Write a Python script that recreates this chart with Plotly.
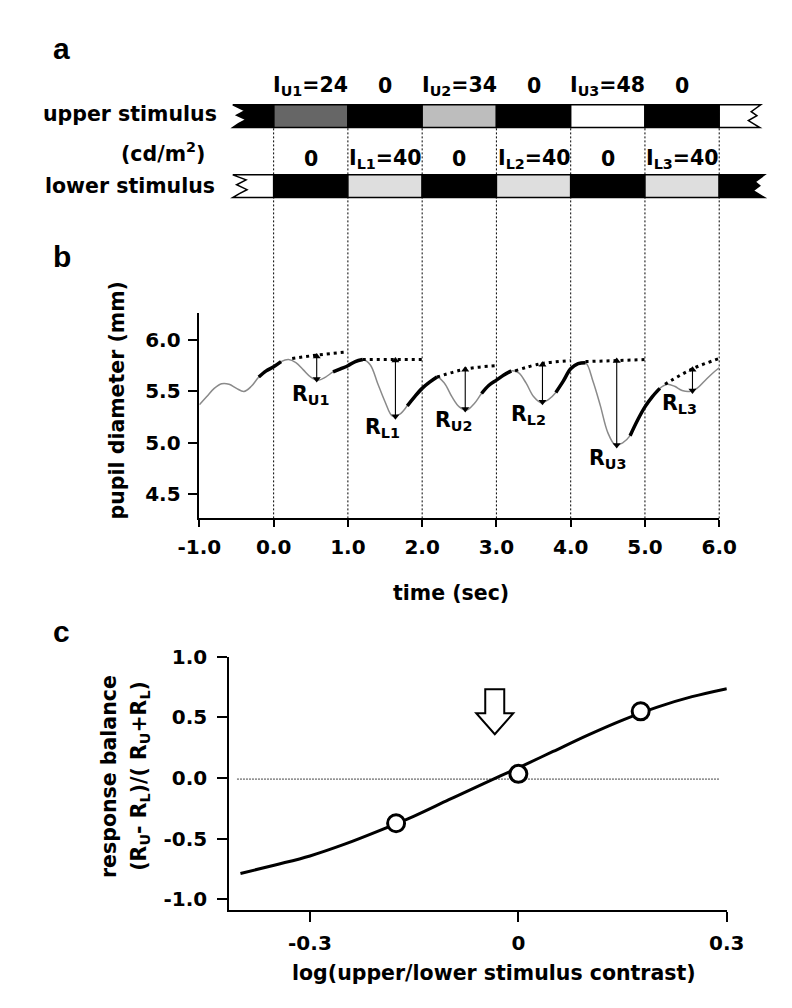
import plotly.graph_objects as go

W, H = 792, 1008
FONT = "DejaVu Sans, Verdana, sans-serif"
LFONT = "Liberation Sans, Arial, sans-serif"

# ---------------- data ----------------
# panel a : stimulus schedule, 1-s segments
seg_start = [0, 1, 2, 3, 4, 5]
upper_I = [24, 0, 34, 0, 48, 0]
lower_I = [0, 40, 0, 40, 0, 40]
shade = {0: "#000000", 24: "#666666", 34: "#bdbdbd", 40: "#dedede", 48: "#ffffff"}

# panel b : pupil trace (sampled every 0.1 s)
time_s = [round(-1 + 0.1 * i, 1) for i in range(71)]
diam_mm = [
    5.37, 5.45, 5.53, 5.575, 5.57, 5.53, 5.50, 5.55, 5.64, 5.70,
    5.74, 5.79, 5.81, 5.78, 5.71, 5.64, 5.61, 5.64, 5.69, 5.72,
    5.75, 5.79, 5.81, 5.76, 5.58, 5.40, 5.26, 5.28, 5.36, 5.45,
    5.53, 5.59, 5.64, 5.58, 5.45, 5.35, 5.32, 5.38, 5.48, 5.56,
    5.61, 5.66, 5.70, 5.68, 5.58, 5.45, 5.39, 5.42, 5.49, 5.60,
    5.72, 5.77, 5.78, 5.60, 5.36, 5.10, 4.98, 5.00, 5.07, 5.22,
    5.35, 5.45, 5.53, 5.57, 5.55, 5.51, 5.50, 5.53, 5.60, 5.67,
    5.73,
]
black_windows = [(-0.2, 0.1), (0.8, 1.2), (1.8, 2.2), (2.8, 3.2), (3.8, 4.2), (4.8, 5.2)]

base_t = [[0.25, 0.6, 1.0], [1.2, 2.0], [2.2, 2.6, 3.0], [3.25, 3.6, 4.0], [4.2, 5.0], [5.27, 5.64, 6.0]]
base_y = [[5.82, 5.855, 5.885], [5.81, 5.81], [5.64, 5.72, 5.75], [5.70, 5.77, 5.80], [5.79, 5.81], [5.57, 5.72, 5.82]]

resp_names = ["U1", "L1", "U2", "L2", "U3", "L3"]
resp_t = [0.58, 1.64, 2.58, 3.62, 4.62, 5.64]
resp_top = [5.84, 5.80, 5.71, 5.76, 5.795, 5.71]
resp_bottom = [5.62, 5.26, 5.33, 5.40, 4.98, 5.51]
label_t = [0.49, 1.47, 2.42, 3.43, 4.49, 5.46]
label_y = [5.47, 5.14, 5.21, 5.27, 4.84, 5.38]

b_xticks = [-1, 0, 1, 2, 3, 4, 5, 6]
b_xticktext = ["-1.0", "0.0", "1.0", "2.0", "3.0", "4.0", "5.0", "6.0"]
b_yticks = [4.5, 5.0, 5.5, 6.0]
b_yticktext = ["4.5", "5.0", "5.5", "6.0"]

# panel c : response balance
fit_x = [-0.40, -0.35, -0.30, -0.25, -0.20, -0.15, -0.10, -0.05, 0.00, 0.05, 0.10, 0.15, 0.20, 0.25, 0.30]
fit_y = [-0.787, -0.716, -0.642, -0.545, -0.433, -0.313, -0.178, -0.045, 0.085, 0.22, 0.355, 0.479, 0.586, 0.672, 0.738]
obs_x = [-0.176, 0.0, 0.176]
obs_y = [-0.372, 0.035, 0.551]
pse_x = -0.034
c_xticks = [-0.3, 0, 0.3]
c_xticktext = ["-0.3", "0", "0.3"]
c_yticks = [-1, -0.5, 0, 0.5, 1]
c_yticktext = ["-1.0", "-0.5", "0.0", "0.5", "1.0"]

# ---------------- geometry (pixels) ----------------
def fx(px):
    return px / W


def fy(py):
    return 1 - py / H


B_X0, B_X1 = 186.8, 734.3
B_YB, B_YT = 513, 305
C_X0, C_X1 = 218, 742.3
C_YB, C_YT = 910, 653.3
sec_px = (B_X1 - B_X0) / 7
t_left = -1 - B_X0 / sec_px
t_right = -1 + (W - B_X0) / sec_px


def t_of(px):
    return -1 + (px - B_X0) / sec_px


UP = (94, 117)
LO = (165, 188)

fig = go.Figure()

# ---- panel b traces ----
fig.add_trace(go.Scatter(x=time_s, y=diam_mm, mode="lines", line=dict(color="#8a8a8a", width=1.5, shape="spline"),
                         xaxis="x", yaxis="y", showlegend=False, hoverinfo="skip"))
for a, b in black_windows:
    xs = [t for t in time_s if a - 1e-9 <= t <= b + 1e-9]
    ys = [d for t, d in zip(time_s, diam_mm) if a - 1e-9 <= t <= b + 1e-9]
    fig.add_trace(go.Scatter(x=xs, y=ys, mode="lines", line=dict(color="black", width=3.5, shape="spline"),
                             xaxis="x", yaxis="y", showlegend=False, hoverinfo="skip"))
for bt, by in zip(base_t, base_y):
    fig.add_trace(go.Scatter(x=bt, y=by, mode="lines", line=dict(color="black", width=3, dash="3px,4px", shape="spline"),
                             xaxis="x", yaxis="y", showlegend=False, hoverinfo="skip"))

# response arrows (double headed)
arr_x, arr_y = [], []
for t, y0, y1 in zip(resp_t, resp_top, resp_bottom):
    arr_x += [t, t, None]
    arr_y += [y0, y1, None]
fig.add_trace(go.Scatter(x=arr_x, y=arr_y, mode="lines", line=dict(color="black", width=1.1),
                         xaxis="x", yaxis="y", showlegend=False, hoverinfo="skip"))
fig.add_trace(go.Scatter(x=resp_t, y=resp_top, mode="markers", marker=dict(symbol="triangle-up", size=7, color="black"),
                         xaxis="x", yaxis="y", showlegend=False, hoverinfo="skip"))
fig.add_trace(go.Scatter(x=resp_t, y=resp_bottom, mode="markers",
                         marker=dict(symbol="triangle-down", size=7, color="black"),
                         xaxis="x", yaxis="y", showlegend=False, hoverinfo="skip"))

# ---- panel a helper axis ----
fig.add_trace(go.Scatter(x=[], y=[], xaxis="x2", yaxis="y2", showlegend=False, hoverinfo="skip"))

# ---- panel c traces ----
fig.add_trace(go.Scatter(x=fit_x, y=fit_y, mode="lines", line=dict(color="black", width=3, shape="spline"),
                         xaxis="x3", yaxis="y3", showlegend=False, hoverinfo="skip"))
fig.add_trace(go.Scatter(x=obs_x, y=obs_y, mode="markers",
                         marker=dict(symbol="circle", size=17, color="white", line=dict(color="black", width=3)),
                         xaxis="x3", yaxis="y3", showlegend=False, hoverinfo="skip"))

shapes = []
# vertical dotted time markers through panels a and b
for t in range(0, 7):
    shapes.append(dict(type="line", xref="x2", yref="paper", x0=t, x1=t, y0=fy(B_YB), y1=fy(UP[1]),
                       line=dict(color="black", width=1, dash="2px,2px"), layer="below"))


def path_px(pts):
    s = ""
    for i, (px, py) in enumerate(pts):
        s += ("M" if i == 0 else "L") + f"{t_of(px):.4f},{fy(py):.5f} "
    return s + "Z"


# stimulus bars
for s0, iu, il in zip(seg_start, upper_I, lower_I):
    shapes.append(dict(type="rect", xref="x2", yref="paper", x0=s0, x1=s0 + 1, y0=fy(UP[1]), y1=fy(UP[0]),
                       fillcolor=shade[iu], line=dict(color="black", width=1.5)))
    shapes.append(dict(type="rect", xref="x2", yref="paper", x0=s0, x1=s0 + 1, y0=fy(LO[1]), y1=fy(LO[0]),
                       fillcolor=shade[il], line=dict(color="black", width=1.5)))

x_end0 = B_X0 + sec_px  # pixel at t=0
x_end6 = B_X1
# torn ends
shapes.append(dict(type="path", xref="x2", yref="paper", fillcolor="black", line=dict(color="black", width=1.5),
                   path=path_px([(x_end0, UP[0]), (222, UP[0]), (235, 100), (226, 104.5), (236, 109), (228, 113),
                                 (222, UP[1]), (x_end0, UP[1])])))
shapes.append(dict(type="path", xref="x2", yref="paper", fillcolor="white", line=dict(color="black", width=1.5),
                   path=path_px([(x_end0, LO[0]), (222, LO[0]), (236, 170), (226, 175), (237, 180), (229, 184),
                                 (222, LO[1]), (x_end0, LO[1])])))
shapes.append(dict(type="path", xref="x2", yref="paper", fillcolor="white", line=dict(color="black", width=1.5),
                   path=path_px([(x_end6, UP[0]), (778, UP[0]), (768, 101), (774, 105), (765, 110), (777, UP[1]),
                                 (x_end6, UP[1])])))
shapes.append(dict(type="path", xref="x2", yref="paper", fillcolor="black", line=dict(color="black", width=1.5),
                   path=path_px([(x_end6, LO[0]), (782, LO[0]), (772, 172), (777, 176), (770, 181), (782, LO[1]),
                                 (x_end6, LO[1])])))

# panel c: zero reference and PSE arrow
shapes.append(dict(type="line", xref="x3", yref="y3", x0=-0.405, x1=0.289, y0=-0.008, y1=-0.008,
                   line=dict(color="#444444", width=1, dash="2px,1px"), layer="below"))
shapes.append(dict(type="path", xref="x3", yref="y3", xsizemode="pixel", ysizemode="pixel",
                   xanchor=pse_x, yanchor=0.362,
                   path="M0,0 L18.5,21 L9.5,21 L9.5,45 L-9.5,45 L-9.5,21 L-18.5,21 Z",
                   fillcolor="white", line=dict(color="black", width=2)))

ann = []
FS = 20.5


def txt(text, x, y, xref="paper", yref="paper", xanchor="center", yanchor="middle", size=FS, angle=0, family=FONT):
    ann.append(dict(text=text, x=x, y=y, xref=xref, yref=yref, xanchor=xanchor, yanchor=yanchor,
                    showarrow=False, textangle=angle,
                    font=dict(family=family, size=size, color="black", weight="bold")))


# panel letters
txt("a", fx(31), fy(36.6), xanchor="left", size=30, family=LFONT)
txt("b", fx(31), fy(247.6), xanchor="left", size=30, family=LFONT)
txt("c", fx(31), fy(628), xanchor="left", size=30, family=LFONT)

# panel a labels
ku = kl = 0
for s0, iu, il in zip(seg_start, upper_I, lower_I):
    if iu:
        ku += 1
        tu = f"I<sub>U{ku}</sub>={iu}"
    else:
        tu = "0"
    if il:
        kl += 1
        tl = f"I<sub>L{kl}</sub>={il}"
    else:
        tl = "0"
    txt(tu, s0 + 0.5, fy(75), xref="x2")
    txt(tl, s0 + 0.5, fy(149), xref="x2")
txt("upper stimulus", fx(207), fy(103), xanchor="right")
txt("(cd/m<sup>2</sup>)", fx(195), fy(142), xanchor="right")
txt("lower stimulus", fx(205), fy(176), xanchor="right")

# panel b response labels
for nm, lt, ly in zip(resp_names, label_t, label_y):
    txt(f"R<sub>{nm}</sub>", lt, ly, xref="x", yref="y")

txt("pupil diameter (mm)", fx(99.5), fy(393), angle=-90)
txt("time (sec)", fx(452), fy(588.5))
txt("response balance", fx(91.6), fy(774), angle=-90)
txt("(R<sub>U</sub>- R<sub>L</sub>)/( R<sub>U</sub>+R<sub>L</sub>)", fx(124), fy(774), angle=-90)
txt("log(upper/lower stimulus contrast)", fx(497.5), fy(974))

axis_common = dict(showline=True, linecolor="black", linewidth=1.6, ticks="outside", tickwidth=1.6,
                   tickcolor="black", showgrid=False, zeroline=False,
                   tickfont=dict(family=FONT, size=20, color="black", weight="bold"))

fig.update_layout(
    width=W, height=H, margin=dict(l=0, r=0, t=0, b=0),
    paper_bgcolor="white", plot_bgcolor="rgba(0,0,0,0)",
    font=dict(family=FONT, size=20, color="black"),
    showlegend=False,
    xaxis=dict(domain=[fx(B_X0), fx(B_X1)], range=[-1, 6], anchor="y", tickvals=b_xticks, ticktext=b_xticktext,
               ticklen=7, ticklabelstandoff=3, **axis_common),
    yaxis=dict(domain=[fy(B_YB), fy(B_YT)], range=[4.266, 6.262], anchor="x", tickvals=b_yticks,
               ticktext=b_yticktext, ticklen=10, ticklabelstandoff=3, **axis_common),
    xaxis2=dict(domain=[0, 1], range=[t_left, t_right], anchor="y2", visible=False),
    yaxis2=dict(domain=[0, 1], range=[0, 1], anchor="x2", visible=False),
    xaxis3=dict(domain=[fx(C_X0), fx(C_X1)], range=[-0.4165, 0.3], anchor="y3", tickvals=c_xticks,
                ticktext=c_xticktext, ticklen=10, ticklabelstandoff=4, **axis_common),
    yaxis3=dict(domain=[fy(C_YB), fy(C_YT)], range=[-1.09, 1.0], anchor="x3", tickvals=c_yticks,
                ticktext=c_yticktext, ticklen=10, ticklabelstandoff=6, **axis_common),
    shapes=shapes,
    annotations=ann,
)

fig.write_html("out.html", config={"displayModeBar": False},
               post_script="document.body.style.margin='0px';")
